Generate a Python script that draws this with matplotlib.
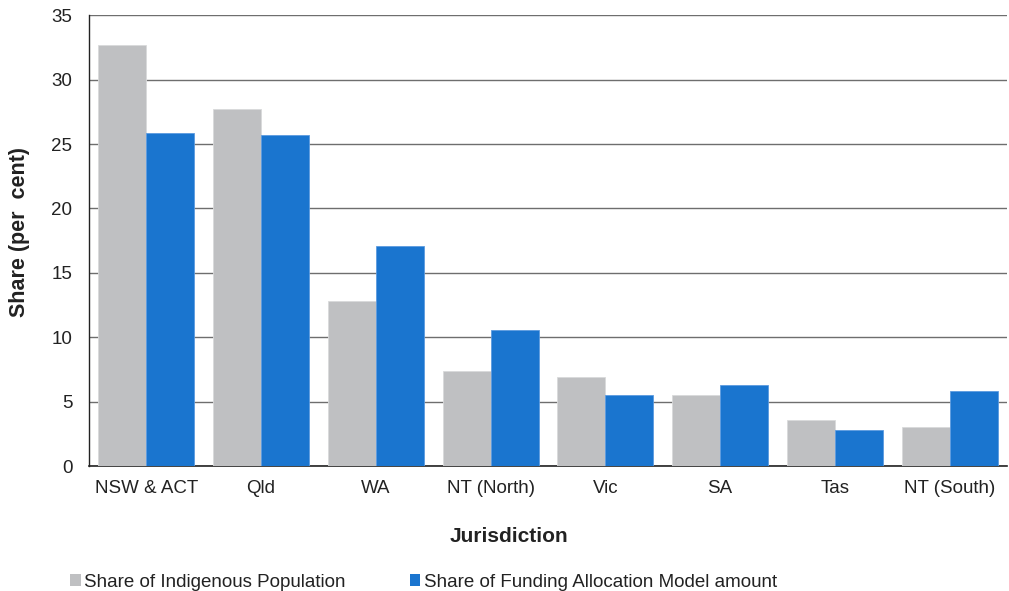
import matplotlib
matplotlib.use("Agg")
import matplotlib.pyplot as plt
import numpy as np
from matplotlib.patches import Patch

plt.rcParams['font.family'] = ['Liberation Sans', 'DejaVu Sans']

jurisdictions = ["NSW & ACT", "Qld", "WA", "NT (North)", "Vic", "SA", "Tas", "NT (South)"]
population_share = [32.7, 27.7, 12.8, 7.35, 6.9, 5.55, 3.55, 3.05]
funding_share = [25.85, 25.7, 17.1, 10.55, 5.55, 6.3, 2.8, 5.8]
y_ticks = [0, 5, 10, 15, 20, 25, 30, 35]

grey = "#BFC0C2"
blue = "#1A75CF"

fig = plt.figure(figsize=(10.09, 5.91), dpi=100)
ax = fig.add_axes([0.0882, 0.2115, 0.9098, 0.7625])

x = np.arange(len(jurisdictions))
w = 0.418
ax.bar(x - w / 2, population_share, width=w, color=grey, zorder=3,
       edgecolor="#D9DADB", linewidth=0.6)
ax.bar(x + w / 2, funding_share, width=w, color=blue, zorder=3,
       edgecolor="#5C9BE0", linewidth=0.6)

ax.set_xlim(-0.5, len(jurisdictions) - 0.5)
ax.set_ylim(0, 35)
ax.set_yticks(y_ticks)
ax.set_xticks(x)
ax.set_xticklabels(jurisdictions)
ax.tick_params(axis='y', length=0, pad=12, labelsize=13.5, labelcolor="#222222")
ax.tick_params(axis='x', length=0, pad=10, labelsize=13.5, labelcolor="#222222")

ax.grid(axis='y', color="#6E6E6E", linewidth=1.0, zorder=0)
ax.set_axisbelow(True)
for side in ("top", "right"):
    ax.spines[side].set_visible(False)
ax.spines['left'].set_color("#222222")
ax.spines['bottom'].set_color("#222222")
ax.spines['left'].set_linewidth(1.0)
ax.spines['bottom'].set_linewidth(1.2)

fig.text(0.019, 0.607, "Share (per  cent)", rotation=90, ha='center', va='center',
         fontsize=15.5, fontweight='bold', color="#222222")
fig.text(0.5045, 0.093, "Jurisdiction", ha='center', va='center',
         fontsize=15, fontweight='bold', color="#222222")

handles = [Patch(facecolor=grey, edgecolor='none'),
           Patch(facecolor=blue, edgecolor='none')]
fig.legend(handles, ["Share of Indigenous Population",
                     "Share of Funding Allocation Model amount"],
           loc='lower left', bbox_to_anchor=(0.053, -0.028), ncol=2,
           frameon=False, fontsize=13.5, handlelength=0.55, handleheight=0.55,
           handletextpad=0.2, columnspacing=3.42, labelcolor="#222222")

fig.savefig("out.png", dpi=100)
